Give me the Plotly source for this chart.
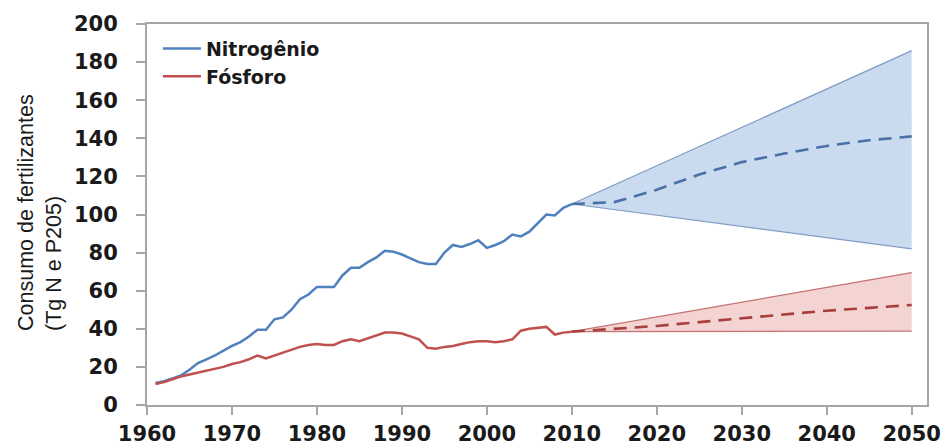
import plotly.graph_objects as go

# Historical fertilizer consumption (Tg N and Tg P2O5)
hist_years = list(range(1961, 2011))
nitrogen = [11.5, 12.5, 14, 15.5, 18.5, 22, 24, 26, 28.5, 31,
            33, 36, 39.5, 39.5, 45, 46, 50, 55.5, 58, 62,
            62, 62, 68, 72, 72, 75, 77.5, 81, 80.5, 79,
            77, 75, 74, 74, 80, 84, 83, 84.5, 86.5, 82.5,
            84, 86, 89.5, 88.5, 91, 95.5, 100, 99.5, 103.5, 105.5]
phosphorus = [11, 12, 13.5, 15, 16, 17, 18, 19, 20, 21.5,
              22.5, 24, 26, 24.5, 26, 27.5, 29, 30.5, 31.5, 32,
              31.5, 31.5, 33.5, 34.5, 33.5, 35, 36.5, 38, 38, 37.5,
              36, 34.5, 30, 29.5, 30.5, 31, 32, 33, 33.5, 33.5,
              33, 33.5, 34.5, 39, 40, 40.5, 41, 37, 38, 38.5]

# Projections to 2050
proj_years = [2010, 2015, 2020, 2025, 2030, 2035, 2040, 2045, 2050]
n_mid = [105.5, 106.5, 113, 121, 127.5, 132, 136, 139, 141]
p_mid = [38.5, 40, 41.5, 43.5, 45.5, 47.5, 49.5, 51, 52.5]

range_years = [2010, 2050]
n_high = [105.5, 186]
n_low = [105.5, 82]
p_high = [38.5, 69.5]
p_low = [38.5, 38.8]

BLUE = "#4F81BD"
RED = "#C0504D"
TEXT = "#1A1A1A"
AXIS = "#A6A6A6"

fig = go.Figure()

# Uncertainty bands
fig.add_trace(go.Scatter(x=range_years, y=n_low, mode="lines",
                         line=dict(color="#7F9CC4", width=1.2),
                         showlegend=False, hoverinfo="skip"))
fig.add_trace(go.Scatter(x=range_years, y=n_high, mode="lines", fill="tonexty",
                         fillcolor="#CADBEF",
                         line=dict(color="#7F9CC4", width=1.2),
                         showlegend=False, hoverinfo="skip"))
fig.add_trace(go.Scatter(x=range_years, y=p_low, mode="lines",
                         line=dict(color="#C47371", width=1.2),
                         showlegend=False, hoverinfo="skip"))
fig.add_trace(go.Scatter(x=range_years, y=p_high, mode="lines", fill="tonexty",
                         fillcolor="#F4D3D3",
                         line=dict(color="#C47371", width=1.2),
                         showlegend=False, hoverinfo="skip"))

# Central projections
fig.add_trace(go.Scatter(x=proj_years, y=n_mid, mode="lines",
                         line=dict(color="#4A71A6", width=2.6, dash="13px,8px"),
                         showlegend=False))
fig.add_trace(go.Scatter(x=proj_years, y=p_mid, mode="lines",
                         line=dict(color="#A93F3C", width=2.6, dash="13px,8px"),
                         showlegend=False))

# Historical series
fig.add_trace(go.Scatter(x=hist_years, y=nitrogen, mode="lines", name="Nitrogênio",
                         line=dict(color=BLUE, width=2.5)))
fig.add_trace(go.Scatter(x=hist_years, y=phosphorus, mode="lines", name="Fósforo",
                         line=dict(color=RED, width=2.5)))

tick_font = dict(family="DejaVu Sans", size=21, color=TEXT, weight="bold")

fig.update_layout(
    width=948, height=447,
    margin=dict(l=147, r=21, t=24, b=42, autoexpand=False),
    paper_bgcolor="white", plot_bgcolor="white",
    showlegend=True,
    legend=dict(x=0.014, y=0.985, xanchor="left", yanchor="top",
                traceorder="normal",
                bgcolor="rgba(0,0,0,0)", borderwidth=0,
                font=dict(family="DejaVu Sans", size=19, color=TEXT, weight="bold"),
                itemwidth=38, tracegroupgap=0),
    xaxis=dict(range=[1960, 2051.8], tickmode="array",
               tickvals=[1960, 1970, 1980, 1990, 2000, 2010, 2020, 2030, 2040, 2050],
               showgrid=False, zeroline=False,
               showline=True, linecolor=AXIS, linewidth=2, mirror=True,
               ticks="outside", ticklen=8, tickcolor=AXIS, tickwidth=1.5,
               tickfont=tick_font, ticklabelstandoff=1),
    yaxis=dict(range=[0, 200], tickmode="array",
               tickvals=[0, 20, 40, 60, 80, 100, 120, 140, 160, 180, 200],
               showgrid=False, zeroline=False,
               showline=True, linecolor=AXIS, linewidth=2, mirror=True,
               ticks="outside", ticklen=9, tickcolor=AXIS, tickwidth=1.5,
               tickfont=tick_font, ticklabelstandoff=14),
    annotations=[dict(
        text="Consumo de fertilizantes<br>(Tg N e P205)",
        xref="paper", yref="paper", x=-0.138, y=0.505,
        xanchor="center", yanchor="middle", textangle=-90, align="left",
        showarrow=False,
        font=dict(family="Liberation Sans", size=21.5, color=TEXT),
    )],
)

fig.write_html("out.html")
